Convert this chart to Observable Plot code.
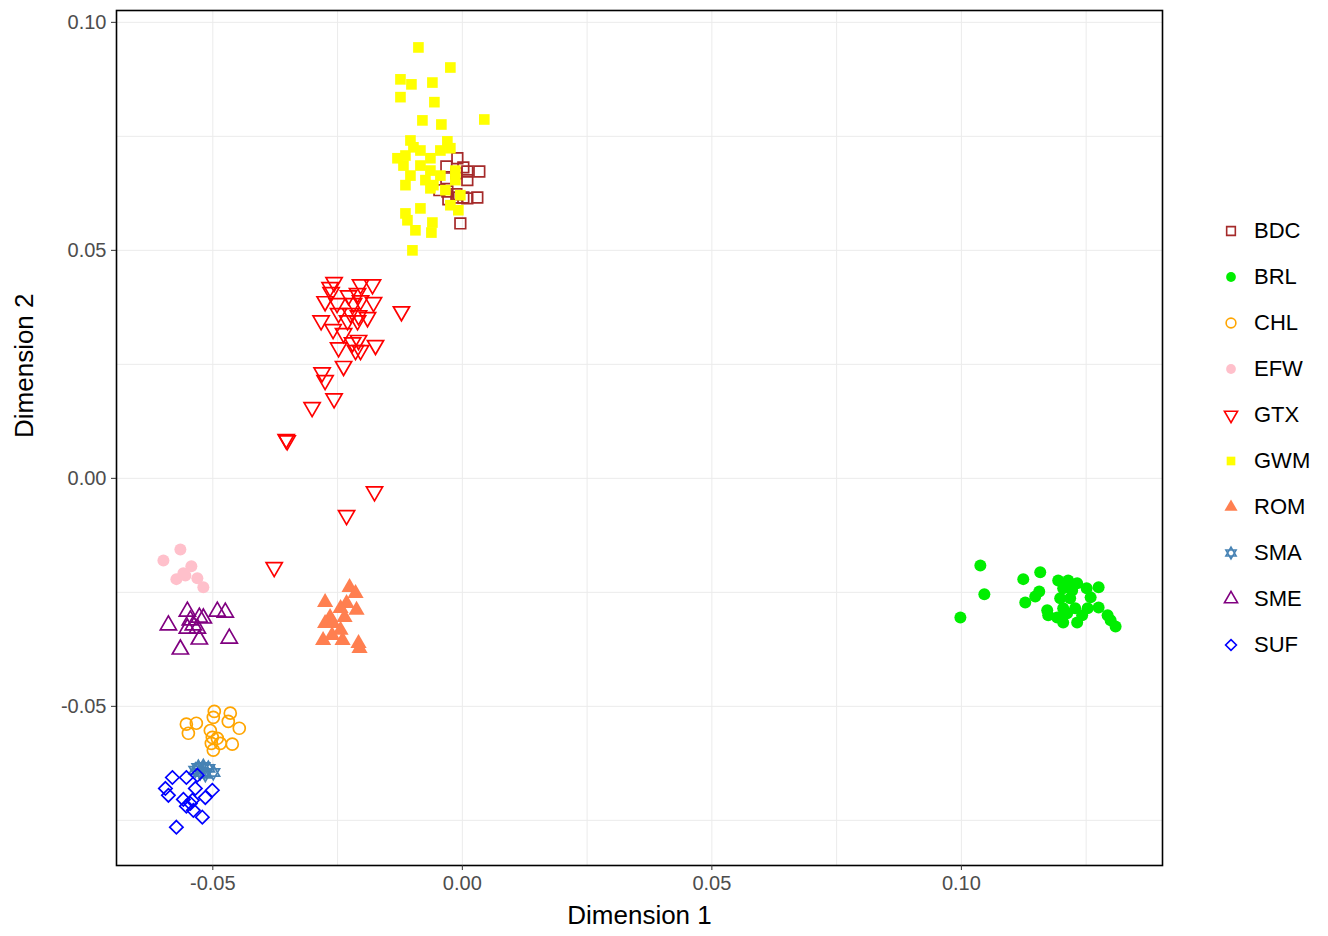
<!DOCTYPE html>
<html>
<head>
<meta charset="utf-8">
<script src="https://cdn.jsdelivr.net/npm/d3@7"></script>
<script src="https://cdn.jsdelivr.net/npm/@observablehq/plot@0.6"></script>
<style>
  body { margin: 0; background: #fff; font-family: "Liberation Sans", Arial, sans-serif; }
  #wrap { position: relative; width: 1328px; height: 936px; }
  #legend { position: absolute; left: 1220px; top: 208px; }
  .item { display: flex; align-items: center; height: 46px; font-size: 22px; color: #000; }
  .item svg { width: 22px; height: 22px; margin-right: 12px; }
</style>
</head>
<body>
<div id="wrap"><div id="chart"></div><div id="legend"></div></div>
<script>
// values: [dimension 1, dimension 2]
const BDC = [[-0.0010,0.0702],[-0.0032,0.0684],[0.0002,0.0682],[0.0010,0.0673],[0.0034,0.0673],[-0.0012,0.0669],[-0.0032,0.0658],[0.0010,0.0654],[-0.0046,0.0632],[-0.0030,0.0629],[-0.0012,0.0623],[0.0002,0.0616],[0.0030,0.0616],[-0.0028,0.0612],[-0.0010,0.0616],[0.0010,0.0614],[-0.0004,0.0559]];
const BRL = [[0.1038,-0.0191],[0.1158,-0.0206],[0.1124,-0.0221],[0.1194,-0.0224],[0.1214,-0.0224],[0.1232,-0.0230],[0.1046,-0.0254],[0.0998,-0.0305],[0.1156,-0.0248],[0.1148,-0.0259],[0.1128,-0.0272],[0.1204,-0.0241],[0.1222,-0.0246],[0.1251,-0.0241],[0.1275,-0.0239],[0.1198,-0.0263],[0.1218,-0.0263],[0.1259,-0.0261],[0.1172,-0.0289],[0.1204,-0.0285],[0.1228,-0.0285],[0.1253,-0.0285],[0.1275,-0.0283],[0.1174,-0.0300],[0.1192,-0.0305],[0.1212,-0.0296],[0.1232,-0.0316],[0.1293,-0.0300],[0.1299,-0.0311],[0.1309,-0.0325],[0.1204,-0.0316],[0.1242,-0.0300]];
const CHL = [[-0.0497,-0.0511],[-0.0465,-0.0515],[-0.0553,-0.0539],[-0.0533,-0.0537],[-0.0499,-0.0524],[-0.0469,-0.0533],[-0.0447,-0.0548],[-0.0549,-0.0559],[-0.0505,-0.0553],[-0.0501,-0.0568],[-0.0485,-0.0581],[-0.0461,-0.0583],[-0.0499,-0.0596],[-0.0503,-0.0581],[-0.0491,-0.0570]];
const EFW = [[-0.0565,-0.0156],[-0.0599,-0.0180],[-0.0543,-0.0193],[-0.0559,-0.0208],[-0.0573,-0.0221],[-0.0531,-0.0219],[-0.0519,-0.0239],[-0.0555,-0.0213]];
const GTX = [[-0.0257,0.0430],[-0.0265,0.0419],[-0.0204,0.0425],[-0.0180,0.0425],[-0.0263,0.0408],[-0.0228,0.0401],[-0.0210,0.0406],[-0.0275,0.0388],[-0.0251,0.0384],[-0.0204,0.0390],[-0.0178,0.0386],[-0.0218,0.0384],[-0.0248,0.0362],[-0.0224,0.0362],[-0.0208,0.0357],[-0.0190,0.0353],[-0.0283,0.0346],[-0.0230,0.0346],[-0.0210,0.0346],[-0.0259,0.0327],[-0.0238,0.0318],[-0.0248,0.0287],[-0.0220,0.0298],[-0.0208,0.0303],[-0.0204,0.0281],[-0.0174,0.0292],[-0.0214,0.0281],[-0.0238,0.0246],[-0.0281,0.0232],[-0.0275,0.0215],[-0.0257,0.0175],[-0.0301,0.0156],[-0.0353,0.0086],[-0.0351,0.0083],[-0.0122,0.0366],[-0.0232,-0.0081],[-0.0176,-0.0029],[-0.0377,-0.0195]];
const GWM = [[-0.0088,0.0945],[-0.0024,0.0901],[-0.0124,0.0875],[-0.0102,0.0864],[-0.0060,0.0868],[-0.0124,0.0836],[-0.0056,0.0825],[-0.0080,0.0785],[-0.0042,0.0776],[0.0044,0.0787],[-0.0030,0.0739],[-0.0104,0.0741],[-0.0098,0.0726],[-0.0114,0.0708],[-0.0084,0.0719],[-0.0044,0.0719],[-0.0024,0.0724],[-0.0064,0.0702],[-0.0130,0.0702],[-0.0084,0.0686],[-0.0118,0.0686],[-0.0064,0.0675],[-0.0104,0.0664],[-0.0044,0.0664],[-0.0074,0.0654],[-0.0014,0.0654],[-0.0114,0.0643],[-0.0064,0.0636],[-0.0034,0.0632],[-0.0004,0.0621],[-0.0024,0.0599],[-0.0008,0.0588],[-0.0114,0.0581],[-0.0084,0.0592],[-0.0060,0.0561],[-0.0110,0.0566],[-0.0094,0.0544],[-0.0062,0.0539],[-0.0100,0.0500],[-0.0058,0.0643],[-0.0014,0.0675]];
const ROM = [[-0.0226,-0.0239],[-0.0214,-0.0252],[-0.0275,-0.0272],[-0.0232,-0.0274],[-0.0244,-0.0285],[-0.0212,-0.0289],[-0.0265,-0.0305],[-0.0236,-0.0305],[-0.0275,-0.0318],[-0.0259,-0.0318],[-0.0244,-0.0333],[-0.0261,-0.0344],[-0.0279,-0.0355],[-0.0240,-0.0355],[-0.0208,-0.0362],[-0.0206,-0.0373]];
const SMA = [[-0.0529,-0.0634],[-0.0519,-0.0632],[-0.0509,-0.0636],[-0.0499,-0.0645],[-0.0525,-0.0645],[-0.0515,-0.0649],[-0.0535,-0.0640]];
const SME = [[-0.0551,-0.0292],[-0.0589,-0.0322],[-0.0491,-0.0292],[-0.0475,-0.0294],[-0.0527,-0.0305],[-0.0545,-0.0311],[-0.0539,-0.0322],[-0.0551,-0.0329],[-0.0531,-0.0329],[-0.0527,-0.0353],[-0.0467,-0.0351],[-0.0565,-0.0375],[-0.0519,-0.0307]];
const SUF = [[-0.0581,-0.0656],[-0.0553,-0.0656],[-0.0531,-0.0651],[-0.0595,-0.0680],[-0.0589,-0.0695],[-0.0535,-0.0680],[-0.0501,-0.0684],[-0.0559,-0.0704],[-0.0541,-0.0706],[-0.0515,-0.0700],[-0.0553,-0.0719],[-0.0539,-0.0728],[-0.0521,-0.0743],[-0.0573,-0.0765],[-0.0545,-0.0713]];

const xTicks = [-0.05, 0, 0.05, 0.10];
const yTicks = [-0.05, 0, 0.05, 0.10];
const xMinor = [-0.025, 0.025, 0.075, 0.125];
const yMinor = [-0.075, -0.025, 0.025, 0.075];

// two overlapping triangles for SMA
const hexagram = {
  draw(ctx, size) {
    const r = Math.sqrt(size / Math.PI) * 1.2;
    for (const s of [1, -1]) {
      for (let i = 0; i < 3; i++) {
        const a = -Math.PI / 2 + i * 2 * Math.PI / 3;
        const px = r * Math.cos(a), py = s * r * Math.sin(a);
        i === 0 ? ctx.moveTo(px, py) : ctx.lineTo(px, py);
      }
      ctx.closePath();
    }
  }
};

const groups = [
  {name: "BDC", pts: BDC, color: "brown", symbol: "square", fill: false, rotate: 0},
  {name: "BRL", pts: BRL, color: "#00ee00", symbol: "circle", fill: true, rotate: 0},
  {name: "CHL", pts: CHL, color: "orange", symbol: "circle", fill: false, rotate: 0},
  {name: "EFW", pts: EFW, color: "pink", symbol: "circle", fill: true, rotate: 0},
  {name: "GTX", pts: GTX, color: "red", symbol: "triangle", fill: false, rotate: 180},
  {name: "GWM", pts: GWM, color: "yellow", symbol: "square", fill: true, rotate: 0},
  {name: "ROM", pts: ROM, color: "#ff7f50", symbol: "triangle", fill: true, rotate: 0},
  {name: "SMA", pts: SMA, color: "steelblue", symbol: hexagram, fill: false, rotate: 0},
  {name: "SME", pts: SME, color: "purple", symbol: "triangle", fill: false, rotate: 0},
  {name: "SUF", pts: SUF, color: "blue", symbol: "diamond2", fill: false, rotate: 0}
];

const d3Symbols = {circle: d3.symbolCircle, square: d3.symbolSquare, triangle: d3.symbolTriangle, diamond2: d3.symbolDiamond2};

const dotMarks = groups.map(g => Plot.dot(g.pts, {
  x: d => d[0], y: d => d[1],
  symbol: () => g.symbol,
  r: 6,
  rotate: g.rotate,
  fill: g.fill ? g.color : "none",
  stroke: g.fill ? "none" : g.color,
  strokeWidth: 1.7
}));

const chart = Plot.plot({
  width: 1328, height: 936,
  marginLeft: 116, marginRight: 166, marginTop: 10, marginBottom: 71,
  style: {fontFamily: "Liberation Sans, Arial, sans-serif", fontSize: "20px", color: "#4d4d4d"},
  x: {domain: [-0.0693, 0.1403], label: null, axis: null},
  y: {domain: [-0.0849, 0.1026], label: null, axis: null},
  symbol: {type: "identity"},
  marks: [
    Plot.ruleX(xMinor.concat(xTicks), {stroke: "#ebebeb", strokeWidth: 1}),
    Plot.ruleY(yMinor.concat(yTicks), {stroke: "#ebebeb", strokeWidth: 1}),
    ...dotMarks,
    Plot.frame({stroke: "#000", strokeWidth: 1.6}),
    Plot.axisX({ticks: xTicks, tickFormat: d => d.toFixed(2), tickSize: 5, label: null, stroke: "#333", fill: "#4d4d4d", tickPadding: 5}),
    Plot.axisY({ticks: yTicks, tickFormat: d => d.toFixed(2), tickSize: 5, label: null, stroke: "#333", fill: "#4d4d4d", tickPadding: 5}),
    Plot.text(["Dimension 1"], {frameAnchor: "bottom", dy: 58, fontSize: 26, fill: "#000"}),
    Plot.text(["Dimension 2"], {frameAnchor: "left", dx: -92, rotate: -90, fontSize: 26, fill: "#000"})
  ]
});
document.getElementById("chart").append(chart);

// legend
const legend = document.getElementById("legend");
for (const g of groups) {
  const item = document.createElement("div");
  item.className = "item";
  const svg = d3.create("svg").attr("viewBox", "-11 -11 22 22");
  const symObj = typeof g.symbol === "string" ? d3Symbols[g.symbol] : g.symbol;
  svg.append("path")
    .attr("d", d3.symbol(symObj, 75)())
    .attr("transform", g.rotate ? "rotate(180)" : null)
    .attr("fill", g.fill ? g.color : "none")
    .attr("stroke", g.fill ? "none" : g.color)
    .attr("stroke-width", 1.6);
  item.append(svg.node());
  item.append(g.name);
  legend.append(item);
}
</script>
</body>
</html>
